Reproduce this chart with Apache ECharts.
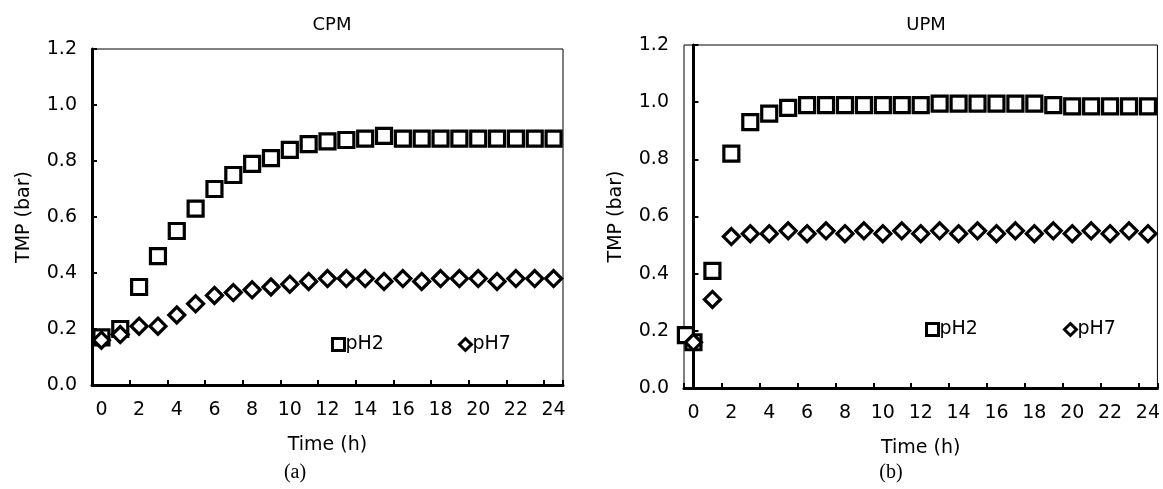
<!DOCTYPE html>
<html>
<head>
<meta charset="utf-8">
<script src="https://cdn.jsdelivr.net/npm/echarts@6/dist/echarts.min.js"></script>
<style>
html,body{margin:0;padding:0;background:#fff;}
#chart{width:1163px;height:489px;}
</style>
</head>
<body>
<div id="chart"></div>
<script>
// ---- data ----
const categories = ['0','1','2','3','4','5','6','7','8','9','10','11','12','13','14','15','16','17','18','19','20','21','22','23','24'];
const cpmPH2 = [0.17,0.20,0.35,0.46,0.55,0.63,0.70,0.75,0.79,0.81,0.84,0.86,0.87,0.875,0.88,0.89,0.88,0.88,0.88,0.88,0.88,0.88,0.88,0.88,0.88];
const cpmPH7 = [0.16,0.18,0.21,0.21,0.25,0.29,0.32,0.33,0.34,0.35,0.36,0.37,0.38,0.38,0.38,0.37,0.38,0.37,0.38,0.38,0.38,0.37,0.38,0.38,0.38];
const upmPH2 = [0.16,0.41,0.82,0.93,0.96,0.98,0.99,0.99,0.99,0.99,0.99,0.99,0.99,0.995,0.995,0.995,0.995,0.995,0.995,0.99,0.985,0.985,0.985,0.985,0.985];
const upmPH7 = [0.16,0.31,0.53,0.54,0.54,0.55,0.54,0.55,0.54,0.55,0.54,0.55,0.54,0.55,0.54,0.55,0.54,0.55,0.54,0.55,0.54,0.55,0.54,0.55,0.54];
const upmPH2Extra = [[-0.4, 0.185]];
const seriesNames = ['pH2','pH7'];
const panelTitles = ['CPM','UPM'];
const panelLetters = ['(a)','(b)'];

const FONT = 'DejaVu Sans';
const black = '#000';

function xAxisFor(gi){
  return {
    gridIndex: gi, type: 'category', data: categories, boundaryGap: true,
    axisLine: {show: true, lineStyle: {color: black, width: 3}},
    axisTick: {show: true, inside: true, length: 5, interval: 1, lineStyle: {color: black, width: 2}},
    axisLabel: {interval: 1, color: black, fontSize: 19, fontFamily: FONT, margin: 16},
    splitLine: {show: false},
    name: 'Time (h)', nameLocation: 'middle', nameGap: 51,
    nameTextStyle: {color: black, fontSize: 19, fontFamily: FONT}
  };
}
function yAxisFor(gi){
  return {
    gridIndex: gi, type: 'value', min: 0, max: 1.2, interval: 0.2,
    axisLine: {show: true, lineStyle: {color: black, width: 3}},
    axisTick: {show: true, inside: true, length: 5, lineStyle: {color: black, width: 2}},
    axisLabel: {color: black, fontSize: 19, fontFamily: FONT, margin: 15, formatter: v => v.toFixed(1)},
    splitLine: {show: false},
    name: 'TMP (bar)', nameLocation: 'middle', nameGap: 58, nameRotate: 90,
    nameTextStyle: {color: black, fontSize: 19, fontFamily: FONT}
  };
}
const markerStyle = {color: '#fff', borderColor: black, borderWidth: 3.2, opacity: 1};
function sq(name, data, xi, yi){
  return {name, type: 'scatter', xAxisIndex: xi, yAxisIndex: yi, data, symbol: 'rect', symbolSize: 15, itemStyle: markerStyle, z: 3};
}
function dm(name, data, xi, yi){
  return {name, type: 'scatter', xAxisIndex: xi, yAxisIndex: yi, data, symbol: 'diamond', symbolSize: 16, itemStyle: markerStyle, z: 4};
}
const legendText = {color: black, fontSize: 19, fontFamily: FONT, padding: [0, 0, 0, -4]};

const chart = echarts.init(document.getElementById('chart'), null, {renderer: 'canvas'});
chart.setOption({
  animation: false,
  backgroundColor: '#fff',
  title: [
    {text: panelTitles[0], left: 327, top: 11, textAlign: 'center', textStyle: {color: black, fontSize: 18, fontWeight: 'normal', fontFamily: FONT}},
    {text: panelTitles[1], left: 921, top: 11, textAlign: 'center', textStyle: {color: black, fontSize: 18, fontWeight: 'normal', fontFamily: FONT}},
    {text: panelLetters[0], left: 290, top: 458, textAlign: 'center', textStyle: {color: black, fontSize: 20, fontWeight: 'normal', fontFamily: 'Liberation Serif'}},
    {text: panelLetters[1], left: 886, top: 458, textAlign: 'center', textStyle: {color: black, fontSize: 20, fontWeight: 'normal', fontFamily: 'Liberation Serif'}}
  ],
  grid: [
    {left: 92, top: 49, width: 471, height: 336, show: true, borderColor: black, borderWidth: 1, backgroundColor: 'transparent'},
    {left: 684, top: 45, width: 476, height: 343, show: true, borderColor: black, borderWidth: 1, backgroundColor: 'transparent'}
  ],
  xAxis: [
    xAxisFor(0), xAxisFor(1),
    {gridIndex: 1, type: 'value', min: -0.5, max: 24.5, show: false}
  ],
  yAxis: [yAxisFor(0), yAxisFor(1)],
  legend: [
    {data: seriesNames, left: 331, top: 335, itemWidth: 12, itemHeight: 12, itemGap: 74, selectedMode: false, padding: 0,
     textStyle: legendText, itemStyle: {borderWidth: 3, opacity: 1}},
    {data: seriesNames, left: 925, top: 320, itemWidth: 12, itemHeight: 12, itemGap: 85, selectedMode: false, padding: 0,
     textStyle: legendText, itemStyle: {borderWidth: 3, opacity: 1}}
  ],
  series: [
    sq(seriesNames[0], cpmPH2, 0, 0),
    dm(seriesNames[1], cpmPH7, 0, 0),
    sq(seriesNames[0], upmPH2, 1, 1),
    sq(seriesNames[0], upmPH2Extra, 2, 1),
    dm(seriesNames[1], upmPH7, 1, 1)
  ]
});
</script>
</body>
</html>
